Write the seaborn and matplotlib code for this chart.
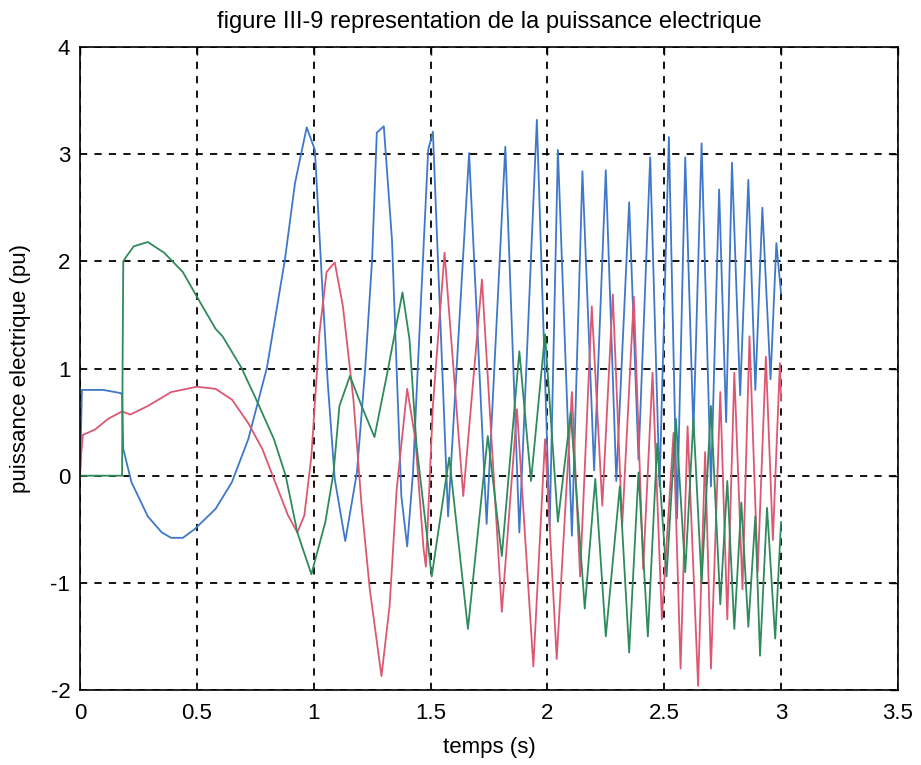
import matplotlib
matplotlib.use("Agg")
import matplotlib.pyplot as plt
import seaborn as sns
import pandas as pd

# Electrical power of the three machines (pu) versus time (s), turning points of each trace
t_blue = [0.000, 0.008, 0.10, 0.175, 0.18, 0.185, 0.22, 0.29, 0.35, 0.39, 0.44, 0.49, 0.58,
          0.65, 0.72, 0.80, 0.877, 0.92, 0.97, 1.005, 1.035, 1.06, 1.09, 1.135, 1.185, 1.22,
          1.25, 1.27, 1.30, 1.335, 1.355, 1.375, 1.40, 1.425, 1.445, 1.49, 1.51, 1.575, 1.665,
          1.74, 1.82, 1.88, 1.955, 2.01, 2.045, 2.105, 2.15, 2.20, 2.25, 2.295, 2.35, 2.39,
          2.44, 2.48, 2.52, 2.555, 2.59, 2.625, 2.66, 2.70, 2.735, 2.765, 2.79, 2.825, 2.86,
          2.89, 2.92, 2.955, 2.98, 3.00]
p_blue = [0.00, 0.80, 0.80, 0.77, 0.75, 0.25, -0.06, -0.38, -0.53, -0.58, -0.58, -0.50, -0.31,
          -0.06, 0.34, 1.01, 2.02, 2.73, 3.25, 3.04, 1.83, 0.87, -0.03, -0.61, 0.03, 0.99,
          2.02, 3.20, 3.26, 2.20, 0.99, -0.19, -0.66, 0.03, 0.99, 3.04, 3.21, -0.38, 3.01,
          -0.45, 3.07, -0.53, 3.32, -0.47, 3.04, -0.56, 2.84, 0.05, 2.85, -0.05, 2.55, 0.15,
          2.97, -0.10, 3.16, -0.40, 2.97, 0.40, 3.10, -0.10, 2.67, 0.50, 2.92, 0.75, 2.76,
          0.80, 2.50, 0.90, 2.17, 1.70]

t_red = [0.000, 0.005, 0.012, 0.064, 0.12, 0.18, 0.215, 0.29, 0.39, 0.50, 0.58, 0.65, 0.72,
         0.78, 0.835, 0.89, 0.93, 0.96, 0.99, 1.025, 1.055, 1.09, 1.125, 1.17, 1.205, 1.24,
         1.29, 1.325, 1.355, 1.40, 1.435, 1.47, 1.48, 1.51, 1.56, 1.64, 1.72, 1.805, 1.87,
         1.94, 1.99, 2.04, 2.105, 2.14, 2.19, 2.235, 2.28, 2.32, 2.37, 2.41, 2.45, 2.49, 2.54,
         2.57, 2.60, 2.645, 2.675, 2.70, 2.74, 2.77, 2.80, 2.835, 2.865, 2.90, 2.935, 2.965,
         2.995, 3.00]
p_red = [0.00, 0.20, 0.38, 0.43, 0.53, 0.60, 0.57, 0.65, 0.78, 0.83, 0.81, 0.71, 0.49,
         0.25, -0.06, -0.37, -0.53, -0.37, 0.18, 1.34, 1.90, 1.99, 1.58, 0.71, -0.28, -1.06,
         -1.87, -1.21, -0.13, 0.81, 0.34, -0.68, -0.85, 0.65, 2.08, -0.19, 1.83, -1.27, 0.62,
         -1.78, 0.34, -1.71, 0.78, -0.94, 1.58, -0.28, 1.69, -0.47, 1.67, -0.87, 0.96, -1.34,
         0.40, -1.80, 0.46, -1.96, 0.22, -1.80, 0.78, -1.34, 0.96, -1.06, 1.30, -0.90, 1.11,
         -0.60, 1.05, 0.70]

t_green = [0.000, 0.180, 0.182, 0.185, 0.20, 0.23, 0.29, 0.36, 0.44, 0.50, 0.58, 0.61, 0.69,
           0.75, 0.83, 0.88, 0.93, 0.99, 1.05, 1.085, 1.11, 1.155, 1.205, 1.26, 1.315, 1.38,
           1.41, 1.44, 1.505, 1.58, 1.66, 1.745, 1.805, 1.88, 1.93, 1.99, 2.045, 2.10, 2.16,
           2.205, 2.25, 2.31, 2.35, 2.39, 2.43, 2.47, 2.51, 2.55, 2.59, 2.625, 2.66, 2.70,
           2.74, 2.77, 2.80, 2.83, 2.86, 2.89, 2.91, 2.94, 2.975, 3.00]
p_green = [0.00, 0.00, 1.00, 2.00, 2.05, 2.14, 2.18, 2.08, 1.90, 1.67, 1.37, 1.30, 1.01,
           0.73, 0.34, 0.00, -0.53, -0.92, -0.43, 0.03, 0.65, 0.93, 0.65, 0.36, 0.96, 1.71,
           1.27, 0.28, -0.94, 0.17, -1.43, 0.37, -0.75, 1.16, -0.05, 1.32, -0.43, 0.59, -1.24,
           -0.03, -1.50, -0.10, -1.65, 0.03, -1.50, 0.30, -0.94, 0.53, -0.90, 0.53, -1.00, 0.65,
           -1.20, -0.05, -1.43, -0.25, -1.41, -0.38, -1.68, -0.30, -1.52, -0.43]

x_ticks = [0, 0.5, 1, 1.5, 2, 2.5, 3, 3.5]
x_tick_labels = ["0", "0.5", "1", "1.5", "2", "2.5", "3", "3.5"]
y_ticks = [-2, -1, 0, 1, 2, 3, 4]
y_tick_labels = ["-2", "-1", "0", "1", "2", "3", "4"]

sns.set_style("white")
plt.rcParams["font.family"] = ["Liberation Sans Narrow", "Liberation Sans", "DejaVu Sans"]
plt.rcParams["text.color"] = "black"
plt.rcParams["axes.labelcolor"] = "black"

fig = plt.figure(figsize=(9.21, 7.65), dpi=100)
fig.patch.set_facecolor("white")
ax = fig.add_axes([0.0869, 0.098, 0.888, 0.8406])

traces = [
    (t_blue, p_blue, "#3f78c9"),
    (t_red, p_red, "#dc5872"),
    (t_green, p_green, "#2f8a5c"),
]
for t, p, colour in traces:
    df = pd.DataFrame({"temps": t, "puissance": p})
    sns.lineplot(data=df, x="temps", y="puissance", ax=ax, color=colour,
                 linewidth=1.3, estimator=None, sort=False)

ax.set_xlim(0, 3.5)
ax.set_ylim(-2, 4)
ax.set_xticks(x_ticks)
ax.set_xticklabels(x_tick_labels)
ax.set_yticks(y_ticks)
ax.set_yticklabels(y_tick_labels)
ax.grid(True, color="black", linestyle=(0, (4, 4)), linewidth=1.3)
ax.tick_params(direction="in", length=6, width=1, labelsize=16, colors="black",
               top=True, right=True)
ax.tick_params(axis="x", pad=9)
ax.tick_params(axis="y", pad=7)
for s in ax.spines.values():
    s.set_color("black")
    s.set_linewidth(1.2)

ax.set_xlabel("temps (s)", fontsize=16, labelpad=10, color="black")
ax.set_ylabel("puissance electrique (pu)", fontsize=16, labelpad=14, color="black")
ax.set_title("figure III-9 representation de la puissance electrique", fontsize=17, pad=14,
             color="black")

fig.savefig("out.png", dpi=100, facecolor="white")
